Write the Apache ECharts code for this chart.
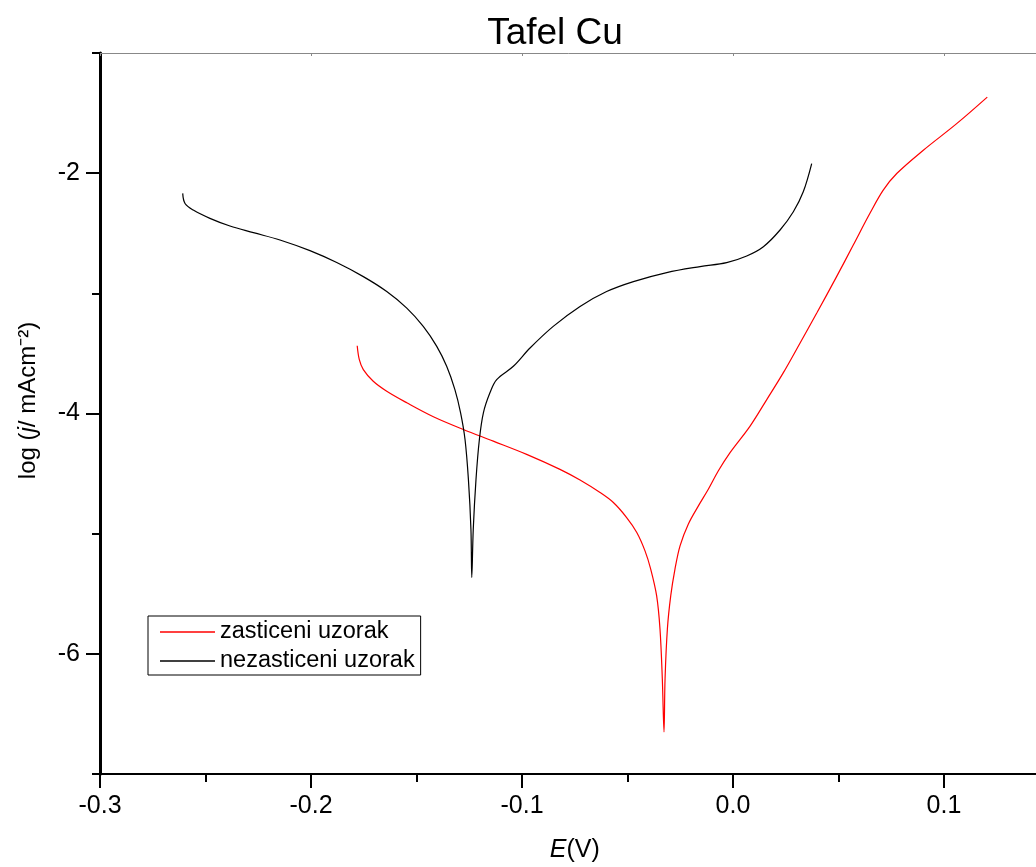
<!DOCTYPE html>
<html>
<head>
<meta charset="utf-8">
<script src="https://cdn.jsdelivr.net/npm/echarts@6/dist/echarts.min.js"></script>
<style>html,body{margin:0;padding:0;background:#fff;}#chart{width:1036px;height:867px;}</style>
</head>
<body>
<div id="chart"></div>
<script>
// Tafel Cu
const seriesNames = ['zasticeni uzorak', 'nezasticeni uzorak'];
const xTickLabels = ['-0.3', '-0.2', '-0.1', '0.0', '0.1'];
const yTickLabels = ['-6', '-4', '-2'];

// zasticeni uzorak (red)
const zasticeniE = [-0.1781, -0.1771, -0.1752, -0.1705, -0.1641, -0.1546, -0.1420, -0.1278, -0.1136, -0.0978,
  -0.0820, -0.0725, -0.0630, -0.0567, -0.0504, -0.0456, -0.0417, -0.0390, -0.0362, -0.0346, -0.0335, -0.0327,
  -0.0322, -0.0311, -0.0295, -0.0275, -0.0251, -0.0212, -0.0164, -0.0117, -0.0070, -0.0014, 0.0081, 0.0160,
  0.0238, 0.0318, 0.0397, 0.0491, 0.0570, 0.0649, 0.0712, 0.0776, 0.0902, 0.1060, 0.1205];
const zasticeniLogJ = [-3.436, -3.552, -3.635, -3.732, -3.815, -3.911, -4.027, -4.133, -4.230, -4.340,
  -4.465, -4.554, -4.658, -4.741, -4.866, -4.990, -5.143, -5.295, -5.516, -5.793, -6.208, -6.650,
  -6.208, -5.793, -5.516, -5.295, -5.101, -4.921, -4.769, -4.631, -4.479, -4.326, -4.105, -3.884,
  -3.662, -3.413, -3.164, -2.861, -2.598, -2.334, -2.141, -2.003, -1.809, -1.588, -1.367];

// nezasticeni uzorak (black)
const nezasticeniE = [-0.2608, -0.2597, -0.2558, -0.2479, -0.2384, -0.2273, -0.2147, -0.2005, -0.1878, -0.1752,
  -0.1641, -0.1546, -0.1468, -0.1404, -0.1357, -0.1318, -0.1291, -0.1270, -0.1254, -0.1242, -0.1238,
  -0.1231, -0.1218, -0.1202, -0.1183, -0.1152, -0.1120, -0.1041, -0.0962, -0.0852, -0.0725, -0.0599,
  -0.0472, -0.0314, -0.0156, -0.0030, 0.0065, 0.0144, 0.0223, 0.0286, 0.0333, 0.0373];
const nezasticeniLogJ = [-2.168, -2.252, -2.307, -2.376, -2.440, -2.495, -2.556, -2.645, -2.744, -2.861,
  -2.985, -3.123, -3.275, -3.441, -3.607, -3.801, -3.994, -4.216, -4.548, -4.963, -5.364,
  -4.963, -4.548, -4.216, -3.994, -3.828, -3.718, -3.607, -3.455, -3.275, -3.109, -2.985,
  -2.902, -2.827, -2.777, -2.744, -2.689, -2.612, -2.473, -2.321, -2.155, -1.920];

const zip = (xs, ys) => xs.map((x, i) => [x, ys[i]]);
const FONT = 'Liberation Sans, Arial, sans-serif';

const chart = echarts.init(document.getElementById('chart'), null, {renderer: 'canvas'});
const yMin = -7, yMax = -1, gTop = 53, gH = 721;
const pxPerUnit = gH / (yMax - yMin);

chart.setOption({
  backgroundColor: '#fff',
  animation: false,
  title: {
    text: 'Tafel Cu', left: 550, top: 10, textAlign: 'center',
    textStyle: {fontFamily: FONT, fontSize: 37, fontWeight: 'normal', color: '#000'}
  },
  legend: {
    orient: 'vertical', left: 148, top: 616,
    data: seriesNames,
    icon: 'rect',
    itemWidth: 55, itemHeight: 1.3, itemGap: 5,
    padding: [4, 6, 2, 12],
    borderColor: '#000', borderWidth: 1,
    textStyle: {fontFamily: FONT, fontSize: 23.5, color: '#000', lineHeight: 23}
  },
  grid: [
    {left: 100, top: gTop, width: 949.5, height: gH, containLabel: false, outerBoundsMode: 'none'},
    {left: 100, top: gTop - pxPerUnit, width: 949.5, height: gH + 2 * pxPerUnit, containLabel: false, outerBoundsMode: 'none'}
  ],
  xAxis: [
    {
      type: 'value', gridIndex: 0, position: 'bottom', min: -0.3, max: 0.15, interval: 0.1,
      name: '{i|E}(V)', nameLocation: 'middle', nameGap: 64,
      nameTextStyle: {fontFamily: FONT, fontSize: 25, color: '#000',
        rich: {i: {fontFamily: FONT, fontSize: 25, fontStyle: 'italic', color: '#000'}}},
      axisLine: {show: true, onZero: false, lineStyle: {color: '#000', width: 2}},
      axisTick: {show: true, inside: false, length: 14, lineStyle: {color: '#000', width: 2}},
      minorTick: {show: true, splitNumber: 2, length: 8, lineStyle: {color: '#000', width: 2}},
      splitLine: {show: false}, minorSplitLine: {show: false},
      axisLabel: {fontFamily: FONT, fontSize: 25, color: '#000', margin: 20, showMaxLabel: false,
        formatter: v => xTickLabels[Math.round((v + 0.3) / 0.1)] || ''}
    },
    {
      type: 'value', gridIndex: 0, position: 'top', min: -0.3, max: 0.15, interval: 0.1,
      axisLine: {show: true, onZero: false, lineStyle: {color: '#888', width: 1}},
      axisTick: {show: true, inside: true, length: 3, lineStyle: {color: '#888', width: 1}},
      axisLabel: {show: false}, splitLine: {show: false}
    },
    {
      type: 'value', gridIndex: 1, min: -0.3, max: 0.15, show: false
    }
  ],
  yAxis: [
    {
      type: 'value', gridIndex: 0, position: 'left', min: yMin, max: yMax, interval: 1,
      name: 'log ({i|j}/ mAcm⁻²)', nameLocation: 'middle', nameGap: 60, nameRotate: 90,
      nameTextStyle: {fontFamily: FONT, fontSize: 24, color: '#000', padding: [0, 0, 0, 26],
        rich: {i: {fontFamily: FONT, fontSize: 24, fontStyle: 'italic', color: '#000'}}},
      axisLine: {show: true, onZero: false, lineStyle: {color: '#000', width: 3}},
      axisTick: {show: true, inside: false, length: 8, lineStyle: {color: '#000', width: 2}},
      axisLabel: {show: false}, splitLine: {show: false}
    },
    {
      type: 'value', gridIndex: 1, position: 'left', min: yMin - 1, max: yMax + 1, interval: 2,
      axisLine: {show: false, onZero: false},
      axisTick: {show: true, inside: false, length: 14, lineStyle: {color: '#000', width: 2}},
      axisLabel: {fontFamily: FONT, fontSize: 25, color: '#000', margin: 20,
        formatter: v => yTickLabels.includes(String(v)) ? String(v) : ''},
      splitLine: {show: false}
    }
  ],
  series: [
    {
      name: seriesNames[0], type: 'line', xAxisIndex: 0, yAxisIndex: 0,
      data: zip(zasticeniE, zasticeniLogJ), symbol: 'none', smooth: 0.35,
      lineStyle: {color: '#ff0000', width: 1.2}, itemStyle: {color: '#ff0000'}, clip: false
    },
    {
      name: seriesNames[1], type: 'line', xAxisIndex: 0, yAxisIndex: 0,
      data: zip(nezasticeniE, nezasticeniLogJ), symbol: 'none', smooth: 0.35,
      lineStyle: {color: '#000', width: 1.2}, itemStyle: {color: '#000'}, clip: false
    }
  ]
});
</script>
</body>
</html>
